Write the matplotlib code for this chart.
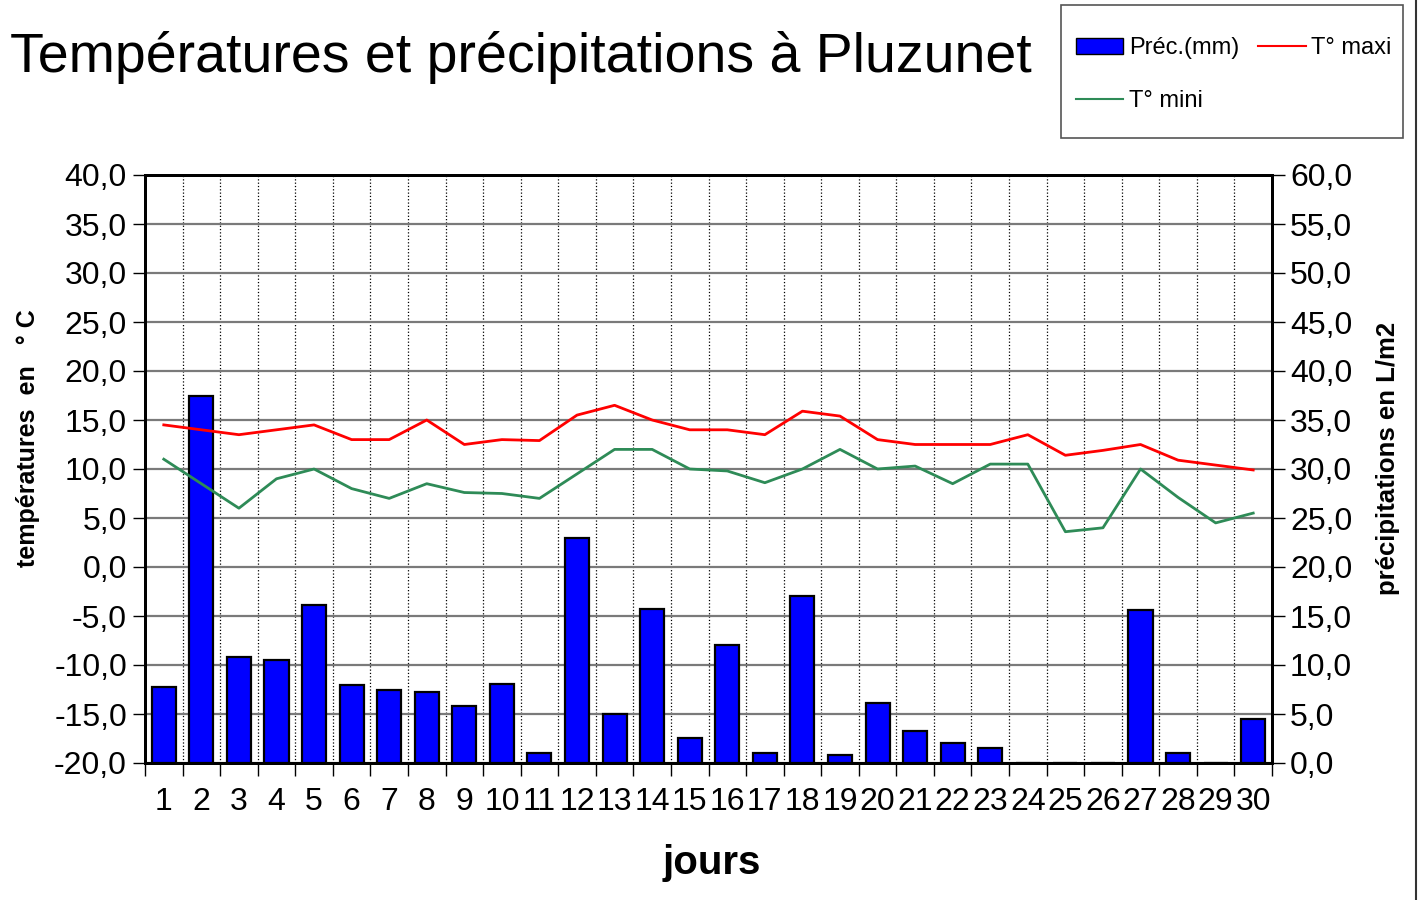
import matplotlib.pyplot as plt
from matplotlib.lines import Line2D
from matplotlib.patches import Rectangle
from matplotlib.ticker import FixedLocator, FuncFormatter
import numpy as np

plt.rcParams['font.family'] = ['Liberation Sans', 'DejaVu Sans']

# data
jours = list(range(1, 31))
prec = [7.8, 37.5, 10.8, 10.5, 16.1, 8.0, 7.4, 7.2, 5.8, 8.1,
        1.0, 23.0, 5.0, 15.7, 2.6, 12.0, 1.0, 17.0, 0.8, 6.1,
        3.3, 2.0, 1.5, 0.0, 0.0, 0.0, 15.6, 1.0, 0.0, 4.5]
tmax = [14.5, 14.0, 13.5, 14.0, 14.5, 13.0, 13.0, 15.0, 12.5, 13.0,
        12.9, 15.5, 16.5, 15.0, 14.0, 14.0, 13.5, 15.9, 15.4, 13.0,
        12.5, 12.5, 12.5, 13.5, 11.4, 11.9, 12.5, 10.9, 10.4, 9.9]
tmin = [11.0, 8.5, 6.0, 9.0, 10.0, 8.0, 7.0, 8.5, 7.6, 7.5,
        7.0, 9.5, 12.0, 12.0, 10.0, 9.8, 8.6, 10.0, 12.0, 10.0,
        10.3, 8.5, 10.5, 10.5, 3.6, 4.0, 10.0, 7.1, 4.5, 5.5]

fig = plt.figure(figsize=(14.2, 9), dpi=100)
ax = fig.add_axes([145 / 1420, 137 / 900, 1127 / 1420, 588 / 900])
ax2 = ax.twinx()
ax3 = ax.twinx()

fmt = FuncFormatter(lambda v, p: f"{v:.1f}".replace('.', ','))

# left axis: temperatures, carries the grid
ax.set_xlim(0.5, 30.5)
ax.set_ylim(-20, 40)
ax.set_yticks(np.arange(-20, 41, 5))
ax.yaxis.set_major_formatter(fmt)
ax.xaxis.set_major_locator(FixedLocator(np.arange(0.5, 31, 1)))
ax.xaxis.set_minor_locator(FixedLocator(jours))
ax.set_xticklabels([])
ax.set_xticklabels([str(j) for j in jours], minor=True)
ax.tick_params(axis='x', which='major', length=9, width=1, color='black')
ax.tick_params(axis='x', which='minor', length=0, labelsize=23, pad=17)
ax.tick_params(axis='y', length=9, width=1, labelsize=23, pad=4)
ax.grid(axis='y', color='#7a7a7a', linewidth=1.6, linestyle='-')
ax.grid(axis='x', which='major', color='black', linewidth=0.9, linestyle=':')
ax.set_axisbelow(True)

# right axis: precipitation bars
ax2.bar(jours, prec, width=0.64, color='#0000ff', edgecolor='black', linewidth=1.6, zorder=3)
ax2.set_ylim(0, 60)
ax2.set_yticks(np.arange(0, 61, 5))
ax2.yaxis.set_major_formatter(fmt)
ax2.tick_params(axis='y', length=9, width=1, labelsize=23, pad=4)

# temperature lines on top
ax3.plot(jours, tmax, color='#ff0000', linewidth=2)
ax3.plot(jours, tmin, color='#2e8b57', linewidth=2)
ax3.set_ylim(-20, 40)
ax3.set_yticks([])
ax3.set_xlim(0.5, 30.5)

for a in (ax, ax2, ax3):
    for s in a.spines.values():
        s.set_color('black')
        s.set_linewidth(2)

fig.text(10 / 1420, 1 - 58 / 900, 'Températures et précipitations à Pluzunet',
         fontsize=40, va='center', ha='left')
fig.text(712 / 1420, 1 - 863 / 900, 'jours', fontsize=29, fontweight='bold',
         ha='center', va='center')
fig.text(28 / 1420, 1 - 438 / 900, 'températures  en   ° C', fontsize=18,
         fontweight='bold', rotation=90, ha='center', va='center')
fig.text(1388 / 1420, 1 - 458 / 900, 'précipitations en L/m2', fontsize=18.5,
         fontweight='bold', rotation=90, ha='center', va='center')

# legend (frame drawn separately)
fig.add_artist(Rectangle((1061 / 1420, 1 - 138 / 900), 342 / 1420, 133 / 900,
                         transform=fig.transFigure, facecolor='white',
                         edgecolor='#555555', linewidth=1.2))
h_prec = plt.Rectangle((0, 0), 1, 1, facecolor='#0000ff', edgecolor='black', linewidth=1)
h_max = Line2D([], [], color='#ff0000', linewidth=1.5)
h_min = Line2D([], [], color='#2e8b57', linewidth=1.5)
leg = fig.legend([h_prec, h_min, h_max], ['Préc.(mm)', 'T° mini', 'T° maxi'],
                 ncol=2, loc='upper left', bbox_to_anchor=(1069 / 1420, 1 - 30 / 900),
                 fontsize=17, frameon=False, handlelength=2.0, handleheight=0.7,
                 handletextpad=0.25, columnspacing=0.8, labelspacing=1.32,
                 borderpad=0.3, borderaxespad=0)

fig.add_artist(Line2D([1416 / 1420, 1416 / 1420], [0, 1], color='#333333', linewidth=1.5))

fig.savefig('out.png', dpi=100)
